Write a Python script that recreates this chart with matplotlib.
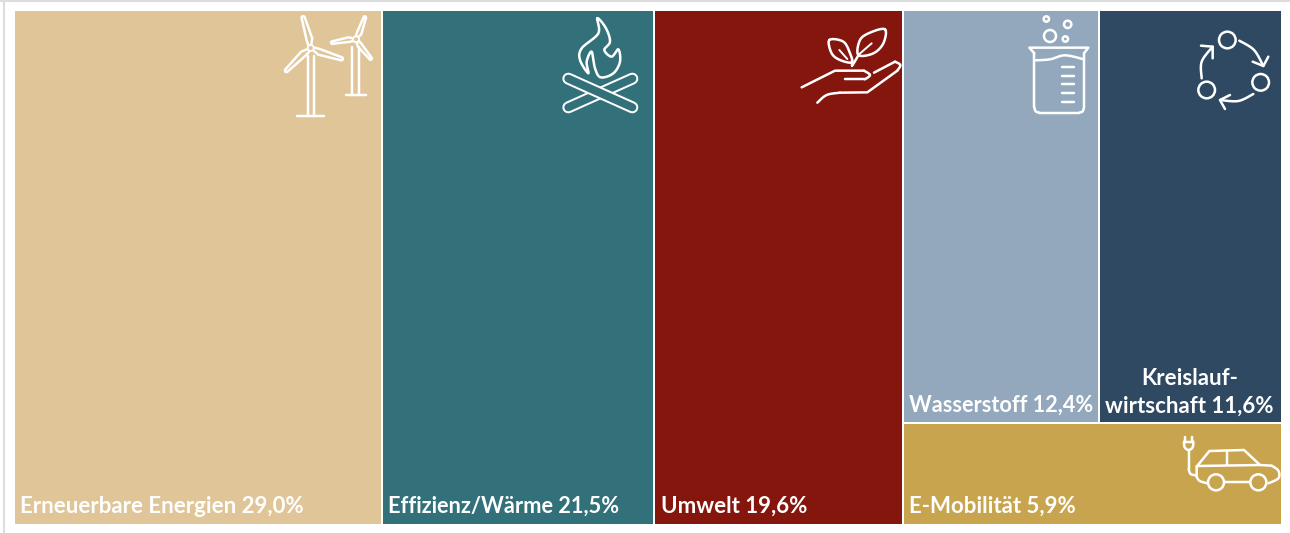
import numpy as np
import matplotlib
matplotlib.use("Agg")
import matplotlib.pyplot as plt
import matplotlib.patches as mpatches

plt.rcParams['font.family'] = ['Lato', 'DejaVu Sans']

labels = ["Erneuerbare Energien 29,0%", "Effizienz/Wärme 21,5%", "Umwelt 19,6%",
          "Wasserstoff 12,4%", "Kreislauf-\nwirtschaft 11,6%", "E-Mobilität 5,9%"]
shares = [29.0, 21.5, 19.6, 12.4, 11.6, 5.9]
colors = ["#E0C598", "#32707A", "#85160E", "#93A8BC", "#2F4963", "#C9A44E"]
label_sizes = [16, 15.65, 16, 15.6, 16, 16]

W, H = 1290, 533
X0, X1, Y0, Y1 = 14.0, 1282.0, 10.0, 525.0
EDGE = 2 * 0.72   # 1 px is 0.72 pt at dpi 100
LW = 2.5 * 0.72

fig = plt.figure(figsize=(W / 100, H / 100), dpi=100)
ax = fig.add_axes([0, 0, 1, 1])
ax.set_xlim(0, W)
ax.set_ylim(H, 0)
ax.axis('off')


def smooth(pts, closed=False, n=12):
    # catmull-rom, only for the icon outlines
    pts = np.array(pts, dtype=float)
    if closed:
        p = np.vstack([pts[-1], pts, pts[0], pts[1]])
    else:
        p = np.vstack([pts[0], pts, pts[-1]])
    out = []
    for i in range(1, len(p) - 2):
        for t in np.linspace(0, 1, n, endpoint=False):
            a = 2 * p[i] + (p[i + 1] - p[i - 1]) * t
            b = (2 * p[i - 1] - 5 * p[i] + 4 * p[i + 1] - p[i + 2]) * t ** 2
            c = (3 * p[i] - p[i - 1] - 3 * p[i + 1] + p[i + 2]) * t ** 3
            out.append(0.5 * (a + b + c))
    out.append(p[-2])
    return np.array(out)


def zoomed(pts, ox, oy):
    return [(ox + x / 3.0, oy + y / 3.0) for x, y in pts]


def line(pts, lw=LW):
    pts = np.array(pts)
    ax.plot(pts[:, 0], pts[:, 1], color="white", lw=lw, solid_capstyle='round',
            solid_joinstyle='round', zorder=3)


def ring(x, y, r, lw=LW):
    ax.add_patch(mpatches.Circle((x, y), r, fill=False, ec="white", lw=lw, zorder=3))


def blade(hub, tip, width):
    hub, tip = np.array(hub, dtype=float), np.array(tip, dtype=float)
    d = tip - hub
    n = np.array([-d[1], d[0]]) / np.hypot(*d)
    pts = [hub + d * 0.12 + n * width * 0.45, hub + d * 0.28 + n * width,
           tip + n * width * 0.4, tip + d * 0.03, tip - n * width * 0.4,
           hub + d * 0.28 - n * width * 0.55, hub + d * 0.12 - n * width * 0.45]
    line(pts)


def turbines():
    for hub, tips, tx, bottom, base, w in [
            ((310.7, 48), [(303, 17), (342, 59), (286, 71)], (307.7, 314.3), 116, (297, 324), 3.8),
            ((356, 39.3), [(365, 17), (331.7, 42.7), (371, 59)], (352.3, 359.3), 94.5, (346, 366), 3.0)]:
        for t in tips:
            blade(hub, t, w)
        ring(hub[0], hub[1], 3, lw=1.3)
        line([(tx[0], hub[1] + 8), (tx[0], bottom)])
        line([(tx[1], hub[1] + 8), (tx[1], bottom)])
        line([(base[0], bottom), (base[1], bottom)])


def fire(bg):
    flame = [(982, 55), (1008, 85), (1020, 125), (1003, 150), (1025, 170), (1045, 148),
             (1050, 185), (1030, 220), (992, 232), (975, 205), (965, 155), (950, 185),
             (955, 220), (930, 180), (935, 145), (985, 100)]
    line(smooth(zoomed(flame, 270, 0), closed=True))
    for a, b in [[(895, 322), (1087, 236)], [(895, 236), (1087, 322)]]:
        p = np.array(zoomed([a, b], 270, 0))
        ax.plot(p[:, 0], p[:, 1], color="white", lw=12 * 0.72, solid_capstyle='round', zorder=3)
        ax.plot(p[:, 0], p[:, 1], color=bg, lw=8 * 0.72, solid_capstyle='round', zorder=3)


def plant():
    o = (790, 0)
    line(smooth(zoomed([(118, 120), (160, 125), (180, 160), (185, 187), (150, 180), (125, 160)], *o), closed=True))
    line(smooth(zoomed([(285, 88), (280, 130), (250, 160), (205, 165), (210, 120), (240, 98)], *o), closed=True))
    line(zoomed([(187, 198), (187, 180)], *o))
    line(zoomed([(188, 195), (207, 163)], *o))
    line(zoomed([(148, 150), (172, 177)], *o), lw=1.4)
    line(zoomed([(245, 130), (207, 163)], *o), lw=1.4)
    line(zoomed([(35, 262), (135, 212), (222, 212)], *o))
    line(smooth(zoomed([(222, 212), (240, 225), (225, 238)], *o)))
    line(zoomed([(225, 238), (165, 238)], *o))
    line(zoomed([(252, 218), (315, 185)], *o))
    line(smooth(zoomed([(315, 185), (331, 195), (322, 212)], *o)))
    line(zoomed([(322, 212), (232, 277), (150, 278)], *o))
    line(smooth(zoomed([(150, 278), (110, 285), (82, 308)], *o)))


def beaker():
    o = (790, 0)
    line(zoomed([(733, 160), (718, 143), (895, 143), (882, 160)], *o))
    line(zoomed([(733, 160), (733, 322)], *o))
    line(smooth(zoomed([(733, 322), (737, 334), (748, 338)], *o)))
    line(zoomed([(748, 338), (868, 338)], *o))
    line(smooth(zoomed([(868, 338), (878, 334), (882, 322)], *o)))
    line(zoomed([(882, 322), (882, 160)], *o))
    line(smooth(zoomed([(733, 181), (780, 178), (825, 166), (882, 178)], *o)))
    for y in [200, 227, 253, 280, 307]:
        line(zoomed([(815, y), (852, y)], *o))
    for (x, y, r) in [(780, 108, 18), (833, 73, 11), (769, 57, 8), (826, 117, 8)]:
        c = zoomed([(x, y)], *o)[0]
        ring(c[0], c[1], r / 3.0)


def cycle():
    o = (790, 0)
    for (x, y) in [(1312, 120), (1412, 247), (1250, 270)]:
        c = zoomed([(x, y)], *o)[0]
        ring(c[0], c[1], 25 / 3.0)
    line(smooth(zoomed([(1348, 122), (1392, 150), (1420, 198)], *o)))
    line(zoomed([(1388, 185), (1420, 198), (1435, 170)], *o))
    line(smooth(zoomed([(1390, 282), (1345, 303), (1290, 300)], *o)))
    line(zoomed([(1320, 285), (1290, 300), (1305, 327)], *o))
    line(smooth(zoomed([(1235, 235), (1235, 185), (1268, 140)], *o)))
    line(zoomed([(1233, 137), (1268, 140), (1268, 175)], *o))


def car():
    o = (890, 350)
    line(zoomed([(886, 260), (886, 275)], *o))
    line(zoomed([(906, 260), (906, 275)], *o))
    line(zoomed([(882, 275), (910, 275)], *o))
    line(smooth(zoomed([(882, 275), (884, 292), (896, 300), (908, 292), (910, 275)], *o)))
    line(zoomed([(896, 300), (896, 358)], *o))
    line(smooth(zoomed([(896, 358), (902, 372), (918, 376)], *o)))
    line(smooth(zoomed([(918, 376), (928, 392), (952, 400)], *o)))
    line(zoomed([(920, 375), (920, 350), (958, 303), (1062, 300), (1110, 345), (1145, 347)], *o))
    line(smooth(zoomed([(1145, 347), (1165, 362), (1165, 385), (1135, 400)], *o)))
    line(zoomed([(920, 348), (1110, 345)], *o))
    line(zoomed([(1010, 303), (1010, 345)], *o))
    line(zoomed([(1005, 397), (1078, 397)], *o))
    for (x, y) in [(978, 397), (1105, 397)]:
        c = zoomed([(x, y)], *o)[0]
        ring(c[0], c[1], 24 / 3.0)


# treemap: three full height columns, then the rest split in two rows
full_w = X1 - X0
full_h = Y1 - Y0
total = sum(shares)
rects = []
x = X0
for s in shares[:3]:
    w = full_w * s / total
    rects.append((x, Y0, w, full_h))
    x += w
rest = sum(shares[3:])
rest_w = X1 - x
top = shares[3] + shares[4]
top_h = full_h * top / rest
w3 = rest_w * shares[3] / top
rects.append((x, Y0, w3, top_h))
rects.append((x + w3, Y0, rest_w - w3, top_h))
rects.append((x, Y0 + top_h, rest_w, full_h - top_h))

for r, c in zip(rects, colors):
    ax.add_patch(mpatches.Rectangle((r[0], r[1]), r[2], r[3], facecolor=c, edgecolor="white", lw=EDGE, zorder=2))

# labels sit on a baseline inside the lower left of each cell
for i, (r, lab) in enumerate(zip(rects, labels)):
    bottom = r[1] + r[3]
    if i == 4:
        ax.text(r[0] + r[2] * 0.5 - 1, bottom - 11, lab, color="white", fontsize=label_sizes[i], fontweight='bold',
                ha='center', va='baseline', linespacing=1.35, zorder=4)
    else:
        ax.text(r[0] + 6.5, bottom - 12, lab, color="white", fontsize=label_sizes[i], fontweight='bold',
                ha='left', va='baseline', zorder=4)

turbines()
fire(colors[1])
plant()
beaker()
cycle()
car()

# thin grey frame left over from the screenshot
ax.plot([0, W], [0.5, 0.5], color="#DDDDDD", lw=1.5, zorder=1)
ax.plot([4, 4], [0, H], color="#DDDDDD", lw=1.5, zorder=1)

fig.savefig("out.png", dpi=100, facecolor="white")
